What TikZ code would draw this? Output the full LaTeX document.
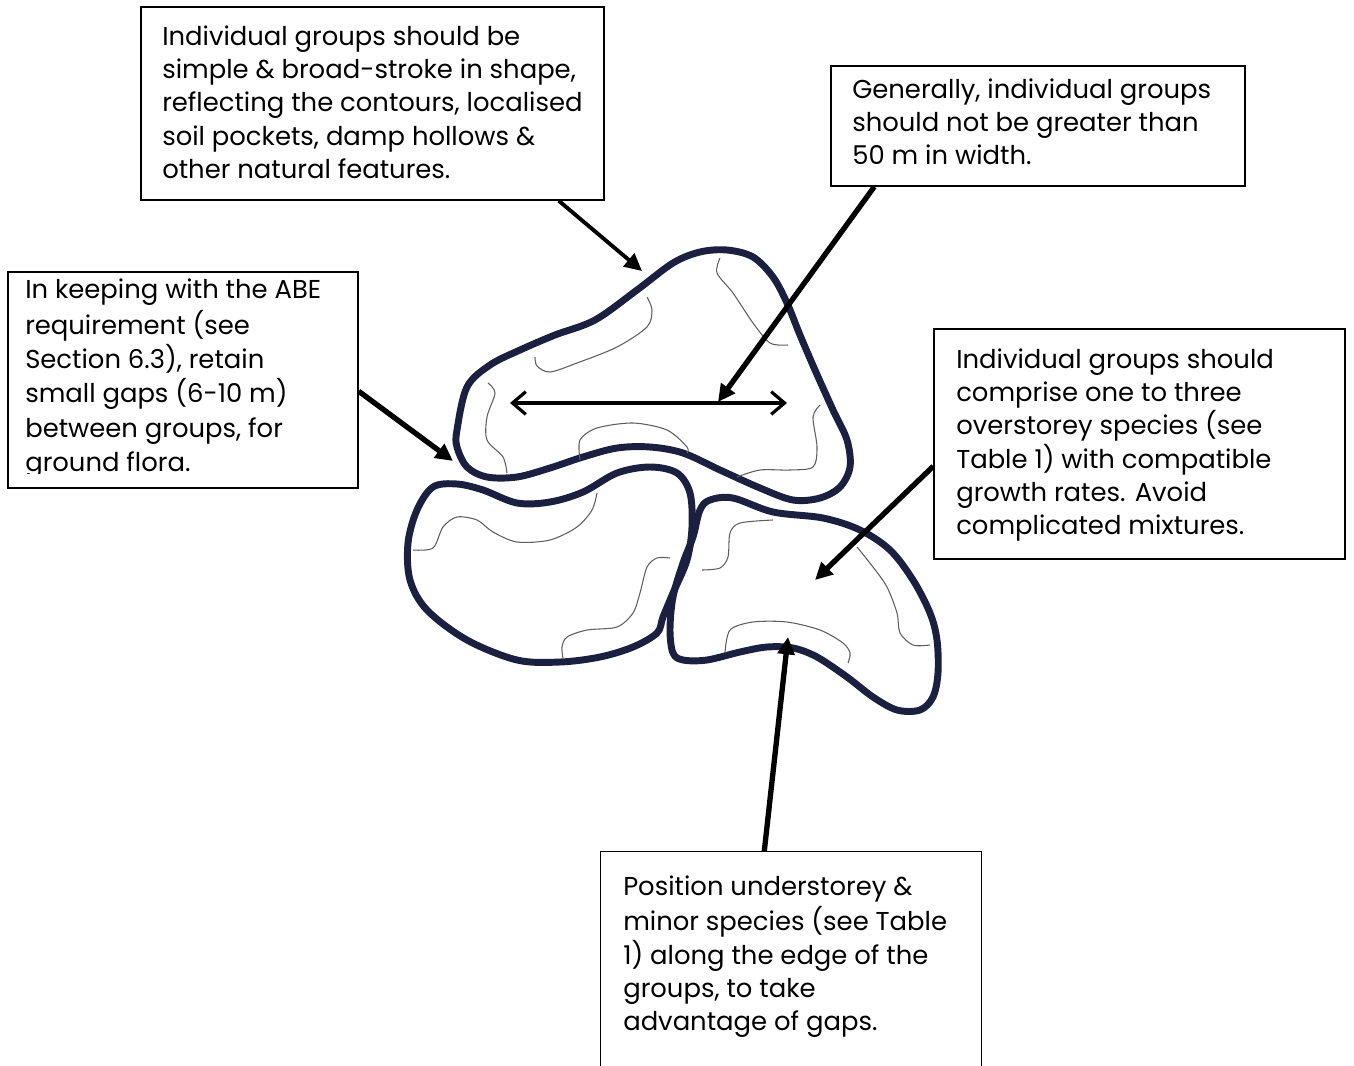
\documentclass[tikz,border=0pt]{standalone}
\usepackage{fontspec}
\setmainfont{Poppins}
\usetikzlibrary{arrows.meta,fit,calc}

\definecolor{blobnavy}{RGB}{28,32,64}
\definecolor{veingrey}{RGB}{95,95,95}

\begin{document}
\begin{tikzpicture}[x=0.75pt, y=-0.75pt,
  notebox/.style={draw=black, line width=1.1pt, inner sep=0pt, fit={#1}},
  notetext/.style={anchor=north west, inner sep=0pt, align=left,
    font=\fontsize{19.4}{25}\selectfont},
  blob/.style={draw=blobnavy, line width=5.2pt, line join=round},
  vein/.style={draw=veingrey, line width=0.8pt},
  pointer/.style={-{Triangle[length=13pt,width=12.5pt]}, line width=4pt},
  span/.style={{Straight Barb[length=10pt,width=17pt]}-{Straight Barb[length=10pt,width=17pt]}, line width=2.4pt}]

\useasboundingbox (0,0) rectangle (1354,1065);

%GROUP 1 (top)
\draw [blob] plot [smooth cycle, tension=0.55] coordinates {(457,430) (467,387) (490,365)
  (520,350) (555,335) (595,320) (637,290) (673,263) (700,252) (727,250) (753,257)
  (773,277) (787,303) (800,335) (815,370) (833,410) (847,440) (850,467) (840,487)
  (820,498) (793,500) (760,488) (720,470) (683,453) (650,447) (617,448) (583,457)
  (550,468) (517,477) (487,477) (467,467) (457,447)};
\draw [vein] plot [smooth] coordinates {(647,297) (652,310) (647,327) (617,347) (577,363) (550,372) (537,366) (535,357)};
\draw [vein] plot [smooth] coordinates {(720,258) (717,273) (733,293) (753,323) (770,343) (788,345)};
\draw [vein] plot [smooth] coordinates {(488,383) (495,393) (487,417) (487,440) (503,457) (507,473)};
\draw [vein] plot [smooth] coordinates {(580,460) (580,440) (597,428) (633,423) (667,430) (687,447) (687,453)};
\draw [vein] plot [smooth] coordinates {(820,405) (813,417) (817,447) (813,467) (790,470) (760,470) (737,477)};

%GROUP 2 (bottom left)
\draw [blob] plot [smooth cycle, tension=0.55] coordinates {(433,487) (457,484) (483,490)
  (517,503) (550,502) (583,492) (617,473) (650,467) (677,473) (690,493) (692,527)
  (687,560) (673,593) (663,617) (657,633) (633,647) (600,657) (560,662) (517,660)
  (467,640) (427,610) (410,580) (408,543) (417,510)};
\draw [vein] plot [smooth] coordinates {(413,550) (433,548) (443,527) (457,517) (477,520) (493,532) (517,542) (550,540) (577,527) (592,510) (597,493)};
\draw [vein] plot [smooth] coordinates {(670,558) (657,558) (647,567) (640,593) (633,613) (617,627) (587,630) (567,637) (562,647) (563,658)};

%GROUP 3 (bottom right)
\draw [blob] plot [smooth cycle, tension=0.55] coordinates {(710,500) (733,498) (773,512)
  (823,518) (860,530) (890,550) (913,580) (930,613) (937,640) (938,673) (933,697)
  (920,710) (897,710) (873,697) (847,677) (817,657) (793,648) (767,647) (740,652)
  (707,660) (683,660) (673,653) (670,630) (673,597) (683,563) (693,537) (700,510)};
\draw [vein] plot [smooth] coordinates {(773,520) (740,523) (730,533) (728,557) (720,568) (702,570)};
\draw [vein] plot [smooth] coordinates {(857,547) (873,567) (887,587) (897,613) (900,633) (913,645) (930,645)};
\draw [vein] plot [smooth] coordinates {(725,653) (730,630) (753,622) (787,622) (820,630) (843,643) (850,653) (848,663)};

%NOTES
\node [notebox={(141,7) (604,200)}] (topbox) {};
\node [notetext] (topnote) at (162,21.7) {\strut Individual groups should be\\
  simple \& broad-stroke in shape,\\ reflecting the contours, localised\\
  soil pockets, damp hollows \&\\ other natural features.};

\node [notebox={(831,66) (1245,186)}] (widthbox) {};
\node [notetext] (widthnote) at (852,74.7) {\strut Generally, individual groups\\
  should not be greater than\\ 50 m in width.};

\node [notebox={(8,272) (358,488)}] (gapbox) {};
\begin{scope}
\clip (gapbox.north west) rectangle ($(gapbox.south east)+(0,-15)$);
\node [notetext, font=\fontsize{19.4}{25.8}\selectfont] (gapnote) at (25,274) {\strut In keeping with the ABE\\ requirement (see\\
  Section 6.3), retain\\ small gaps (6-10 m)\\ between groups, for\\ ground flora.};
\end{scope}

\node [notebox={(934,329) (1345,559)}] (mixbox) {};
\node [notetext] (mixnote) at (956,344.7) {\strut Individual groups should\\
  comprise one to three\\ overstorey species (see\\ Table 1) with compatible\\
  growth rates. Avoid\\ complicated mixtures.};

\node [notebox={(601,852) (981,1065)}, draw=none] (edgebox) {};
\draw [line width=1.1pt] (edgebox.south west) |- (edgebox.north east) -- (edgebox.south east);
\node [notetext] (edgenote) at (623,871.7) {\strut Position understorey \&\\
  minor species (see Table\\ 1) along the edge of the\\ groups, to take\\ advantage of gaps.};

%ARROWS
\coordinate (shapetip) at (642,271);
\coordinate (spanmid) at (718,402);
\coordinate (gaptip) at (453,461);
\coordinate (mixtip) at (815,580);
\coordinate (edgetip) at (788,637);
\coordinate (spanleft) at (510,403);
\coordinate (spanright) at (787,403);

\draw [span] (spanleft) -- (spanright);
\draw [pointer, line width=2.9pt] ($(topbox.south east)+(-46,0)$) -- (shapetip);
\draw [pointer] ($(widthbox.south west)+(44,0)$) -- (spanmid);
\draw [pointer] ($(gapbox.north east)+(0,120)$) -- (gaptip);
\draw [pointer] ($(mixbox.north west)+(0,138)$) -- (mixtip);
\draw [pointer] ($(edgebox.north west)+(164,0)$) -- (edgetip);

\end{tikzpicture}
\end{document}
